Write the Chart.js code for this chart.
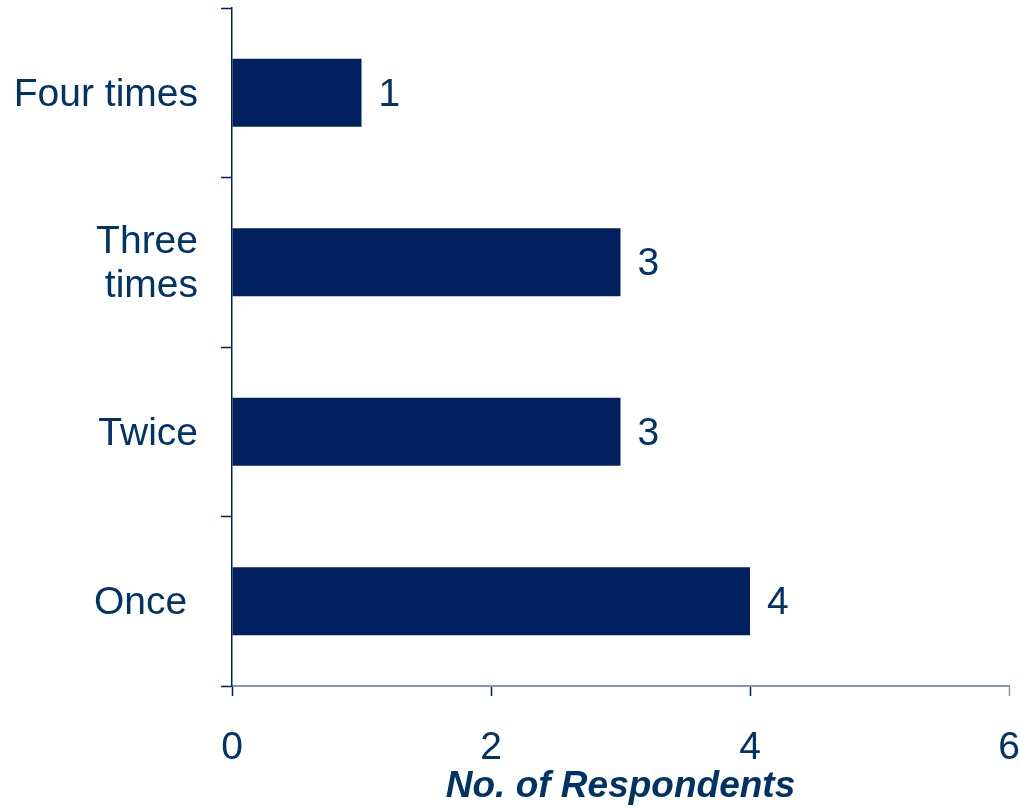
<!DOCTYPE html>
<html>
<head>
<meta charset="utf-8">
<title>Respondents</title>
<script src="https://cdn.jsdelivr.net/npm/chart.js@4/dist/chart.umd.min.js"></script>
<style>
  html, body { margin: 0; padding: 0; background: #fff; }
  #wrap { width: 1020px; height: 809px; }
</style>
</head>
<body>
<div id="wrap"><canvas id="respondentsChart" width="1020" height="809"></canvas></div>
<script>
// categories top to bottom
const categories = ['Four times', ['Three', 'times'], 'Twice', 'Once '];
const respondents = [1, 3, 3, 4];
const xTicks = [0, 2, 4, 6];

const NAVY = '#002060';
const TEXT = '#003366';
const AXIS_LIGHT = '#8497b0';
const FONT = "'Liberation Sans', Arial, sans-serif";

// value labels just past the end of each bar
const barValues = {
    id: 'barValues',
    afterDatasetsDraw(chart) {
        const ctx = chart.ctx;
        const meta = chart.getDatasetMeta(0);
        ctx.save();
        ctx.font = `39px ${FONT}`;
        ctx.fillStyle = TEXT;
        ctx.textAlign = 'left';
        ctx.textBaseline = 'middle';
        meta.data.forEach((bar, i) => {
            ctx.fillText(String(chart.data.datasets[0].data[i]), bar.x + 17, bar.y + 2);
        });
        ctx.restore();
    },
};

new Chart(document.getElementById('respondentsChart'), {
    type: 'bar',
    data: {
        labels: categories,
        datasets: [{
            data: respondents,
            backgroundColor: NAVY,
            borderWidth: 0,
            categoryPercentage: 1,
            barPercentage: 0.4,
        }],
    },
    options: {
        indexAxis: 'y',
        responsive: false,
        animation: false,
        layout: {
            padding: { top: 8, left: 0, right: 11, bottom: 0 },
        },
        plugins: {
            legend: { display: false },
            tooltip: { enabled: false },
        },
        scales: {
            x: {
                min: 0,
                max: 6,
                afterBuildTicks: (axis) => {
                    axis.ticks = xTicks.map(v => ({ value: v }));
                },
                // fixed band for tick labels + title below the plot
                afterFit: (axis) => {
                    axis.height = 123;
                    axis.paddingLeft = 0;
                    axis.paddingRight = 0;
                },
                grid: {
                    drawOnChartArea: false,
                    tickLength: 10,
                    tickWidth: 1.5,
                    tickColor: (c) => (c.tick && c.tick.value === 6 ? AXIS_LIGHT : NAVY),
                },
                border: { color: AXIS_LIGHT, width: 2 },
                ticks: {
                    color: TEXT,
                    font: { family: FONT, size: 39 },
                    padding: 29,
                    maxRotation: 0,
                },
                title: {
                    display: true,
                    text: 'No. of Respondents',
                    color: TEXT,
                    font: { family: FONT, size: 37, weight: 'bold', style: 'italic' },
                    padding: { top: 0, bottom: 0 },
                },
            },
            y: {
                // keep the category labels from pushing the plot down / right
                afterFit: (axis) => {
                    axis.width = 232;
                    axis.paddingTop = 0;
                    axis.paddingBottom = 0;
                },
                grid: {
                    drawOnChartArea: false,
                    offset: true,
                    tickLength: 11,
                    tickWidth: 1.5,
                    tickColor: (c) => (c.index === categories.length ? AXIS_LIGHT : NAVY),
                },
                border: { color: NAVY, width: 1.5 },
                ticks: {
                    color: TEXT,
                    font: { family: FONT, size: 39, lineHeight: 1.15 },
                    padding: 23,
                    labelOffset: 2,
                },
            },
        },
    },
    plugins: [barValues],
});
</script>
</body>
</html>
